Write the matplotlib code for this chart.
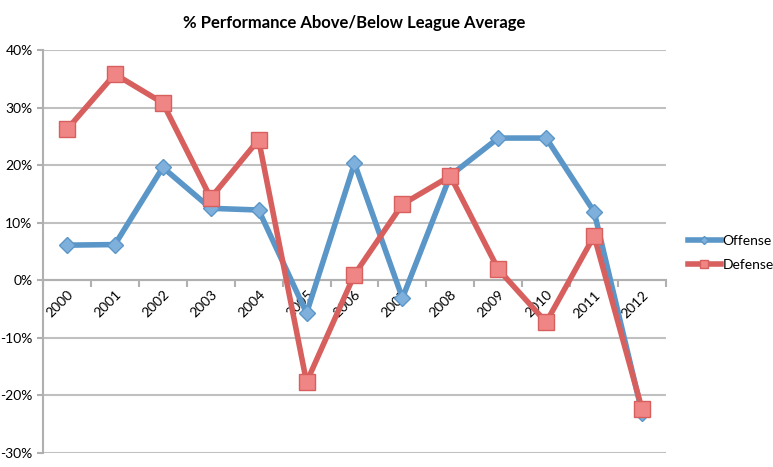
import numpy as np
import matplotlib
matplotlib.use("Agg")
import matplotlib.pyplot as plt
from matplotlib.ticker import FuncFormatter, FixedLocator

plt.rcParams['font.family'] = ['Lato', 'DejaVu Sans']

years = ['2000', '2001', '2002', '2003', '2004', '2005', '2006',
         '2007', '2008', '2009', '2010', '2011', '2012']
offense = [6.1, 6.2, 19.6, 12.5, 12.2, -5.7, 20.3, -3.1, 18.2, 24.7, 24.7, 11.9, -23.0]
defense = [26.2, 35.8, 30.8, 14.3, 24.4, -17.7, 1.0, 13.2, 18.1, 1.9, -7.3, 7.7, -22.4]

fig = plt.figure(figsize=(7.73, 4.67), dpi=100)
ax = fig.add_axes([0.0556, 0.030, 0.806, 0.863])

x = np.arange(len(years))
ax.plot(x, offense, color='#5a96c8', lw=4, marker='D', ms=8,
        mfc='#7fb0dc', mec='#5a96c8', mew=1, label='Offense', zorder=3)
ax.plot(x, defense, color='#d7605e', lw=4, marker='s', ms=11,
        mfc='#f08585', mec='#d7605e', mew=1, label='Defense', zorder=4)

ax.set_xlim(-0.5, len(years) - 0.5)
ax.set_ylim(-30, 40)
ax.set_yticks(np.arange(-30, 41, 10))
ax.yaxis.set_major_formatter(FuncFormatter(lambda v, p: '%d%%' % v))
ax.grid(axis='y', color='#c0c0c0', lw=1.5)
ax.set_axisbelow(True)

for s in ['top', 'right']:
    ax.spines[s].set_visible(False)
ax.spines['left'].set_color('#b0b0b0')
ax.spines['left'].set_linewidth(1.5)
ax.spines['bottom'].set_position(('data', 0))
ax.spines['bottom'].set_color('#b0b0b0')
ax.spines['bottom'].set_linewidth(1.5)

ax.set_xticks(x)
ax.set_xticklabels(years, rotation=45, ha='right', va='top',
                   rotation_mode='anchor', fontsize=10)
ax.tick_params(axis='x', length=0, pad=6)
ax.xaxis.set_minor_locator(FixedLocator(np.arange(-0.5, len(years), 1)))
ax.tick_params(axis='x', which='minor', length=5, color='#b0b0b0', width=1.5)
ax.tick_params(axis='y', length=4, color='#b0b0b0', width=1.5, labelsize=10)

ax.set_title('% Performance Above/Below League Average', fontsize=12,
             fontweight='bold', pad=16)

ax.legend(loc='center left', bbox_to_anchor=(1.035, 0.496), frameon=False,
          fontsize=10, handlelength=2.4, handletextpad=0.1, labelspacing=0.9,
          borderaxespad=0, borderpad=0, markerscale=0.55)

fig.savefig('out.png', dpi=100)
